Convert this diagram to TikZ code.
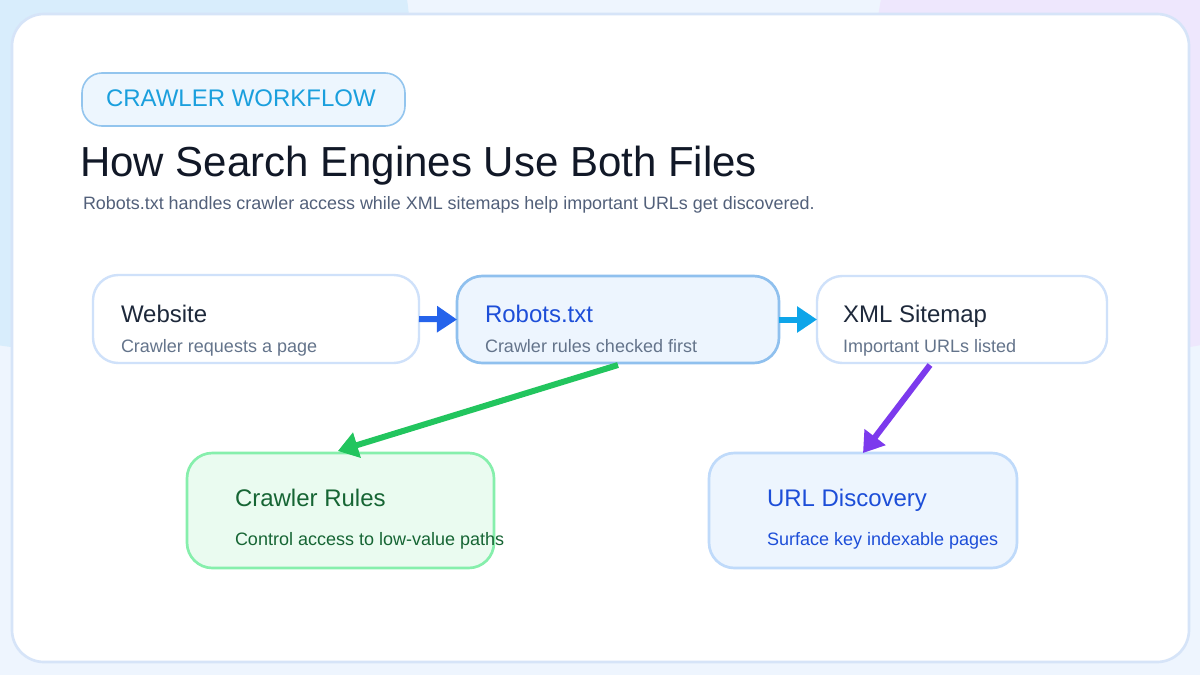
\documentclass[tikz,border=0pt]{standalone}
\usepackage{fontspec}
\setmainfont{Liberation Sans}
\usetikzlibrary{arrows.meta}
\definecolor{bgbase}{HTML}{EEF5FE}
\definecolor{bgblue}{HTML}{D8EDFC}
\definecolor{bgviolet}{HTML}{EEE7FD}
\definecolor{cardline}{HTML}{D6E4F8}
\definecolor{pillfill}{HTML}{EDF6FE}
\definecolor{pillline}{HTML}{93C5EE}
\definecolor{pilltext}{HTML}{1A9FDD}
\definecolor{titletext}{HTML}{111827}
\definecolor{subtext}{HTML}{52607A}
\definecolor{boxsub}{HTML}{64748B}
\definecolor{boxtitle}{HTML}{1E293B}
\definecolor{lightline}{HTML}{CFE1FA}
\definecolor{robfill}{HTML}{EDF5FE}
\definecolor{robline}{HTML}{8FC0EE}
\definecolor{bluetext}{HTML}{1D4ED8}
\definecolor{greenfill}{HTML}{EAFBF0}
\definecolor{greenline}{HTML}{86EFAC}
\definecolor{greentext}{HTML}{166534}
\definecolor{urlline}{HTML}{BFDAFA}
\definecolor{arrblue}{HTML}{2563EB}
\definecolor{arrsky}{HTML}{0EA5E9}
\definecolor{arrgreen}{HTML}{22C55E}
\definecolor{arrviolet}{HTML}{7C3AED}
\begin{document}
\begin{tikzpicture}[x=0.75pt,y=-0.75pt,
  box/.style={draw, rounded corners=19pt, line width=1.8pt, outer sep=0pt, inner sep=0pt},
  lbl/.style={anchor=base west, inner sep=0pt, outer sep=0pt},
  ttl/.style={lbl, font=\fontsize{18pt}{21pt}\selectfont},
  sub/.style={lbl, font=\fontsize{13.5pt}{16pt}\selectfont},
  flow/.style={line width=4.5pt, -{Triangle[length=15pt,width=19pt]}}
]
\useasboundingbox (0,0) rectangle (1200,675);
\fill[bgbase] (0,0) rectangle (1200,675);
\fill[bgblue] (60,40) ellipse [x radius=350, y radius=310];
\fill[bgviolet] (1150,60) ellipse [x radius=275, y radius=290];
\draw[cardline, fill=white, line width=2pt, rounded corners=24pt] (12,14) rectangle (1189,662);

% header
\node[box, draw=pillline, fill=pillfill, line width=1.2pt, rounded corners=15pt,
  minimum width={323*0.75pt}, minimum height={53*0.75pt}] (pill) at (243.5,99.5) {};
\node[lbl, text=pilltext, font=\fontsize{18pt}{21pt}\selectfont] (pilltxt) at (106,106) {CRAWLER WORKFLOW};
\node[lbl, text=titletext, font=\fontsize{31.5pt}{36pt}\selectfont] (title) at (80,176) {How Search Engines Use Both Files};
\node[lbl, text=subtext, font=\fontsize{13.45pt}{16pt}\selectfont] (subtitle) at (83,209) {Robots.txt handles crawler access while XML sitemaps help important URLs get discovered.};

% top row boxes
\node[box, draw=lightline, fill=white, minimum width={326*0.75pt}, minimum height={88*0.75pt}] (web) at (256,319) {};
\node[box, draw=robline, fill=robfill, line width=2pt, minimum width={322*0.75pt}, minimum height={87*0.75pt}] (rob) at (618,319.5) {};
\node[box, draw=lightline, fill=white, minimum width={290*0.75pt}, minimum height={87*0.75pt}] (xml) at (962,319.5) {};

\node[ttl, text=boxtitle] (webt) at (121,322) {Website};
\node[sub, text=boxsub] (webs) at (121,352) {Crawler requests a page};
\node[ttl, text=bluetext] (robt) at (485,322) {Robots.txt};
\node[sub, text=boxsub] (robs) at (485,352) {Crawler rules checked first};
\node[ttl, text=boxtitle] (xmlt) at (843,322) {XML Sitemap};
\node[sub, text=boxsub] (xmls) at (843,352) {Important URLs listed};

% bottom boxes
\node[box, draw=greenline, fill=greenfill, line width=2pt, minimum width={307*0.75pt}, minimum height={115*0.75pt}] (rules) at (340.5,510.5) {};
\node[box, draw=urlline, fill=robfill, line width=2pt, minimum width={308*0.75pt}, minimum height={115*0.75pt}] (url) at (863,510.5) {};

\node[ttl, text=greentext] (rulest) at (235,506) {Crawler Rules};
\node[sub, text=greentext] (ruless) at (235,545) {Control access to low-value paths};
\node[ttl, text=bluetext] (urlt) at (767,506) {URL Discovery};
\node[sub, text=bluetext] (urls) at (767,545) {Surface key indexable pages};

% connectors
\draw[flow, arrblue] (web.east) -- (rob.west);
\draw[flow, arrsky] (rob.east) -- (xml.west);
\draw[flow, arrgreen] ([yshift=-1.5pt]rob.south) -- ([xshift=-2pt,yshift=1.5pt]rules.north);
\draw[flow, arrviolet] ([xshift=-24pt,yshift=-1.5pt]xml.south) -- (url.north);
\end{tikzpicture}
\end{document}
